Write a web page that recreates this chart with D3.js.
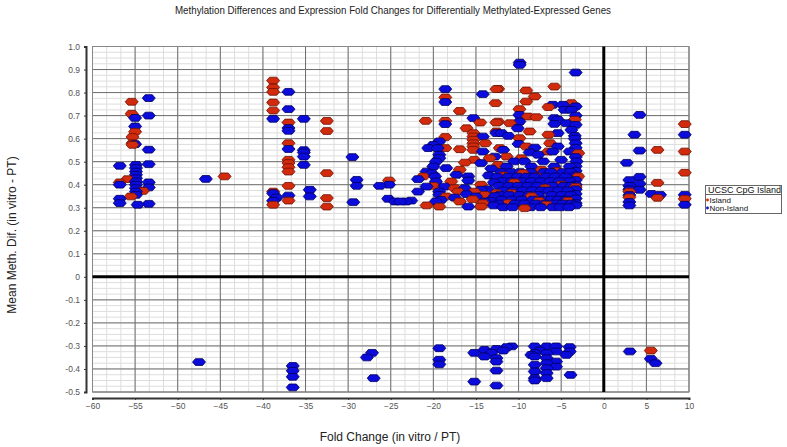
<!DOCTYPE html>
<html><head><meta charset="utf-8">
<script src="https://cdn.jsdelivr.net/npm/d3@7"></script>
<style>
html,body{margin:0;padding:0;background:#fff;}
svg{display:block;font-family:"Liberation Sans",Arial,sans-serif;}
</style></head>
<body><svg id="c" width="787" height="447"></svg>
<script>
const chartTitle = "Methylation Differences and Expression Fold Changes for Differentially Methylated-Expressed Genes";
const xLabel = "Fold Change (in vitro / PT)";
const yLabel = "Mean Meth. Dif. (in vitro - PT)";
const legendTitle = "UCSC CpG Island";
const seriesNames = ["Island", "Non-Island"];
const xTicks = [-60,-55,-50,-45,-40,-35,-30,-25,-20,-15,-10,-5,0,5,10];
const yTicks = [-0.5,-0.4,-0.3,-0.2,-0.1,0,0.1,0.2,0.3,0.4,0.5,0.6,0.7,0.8,0.9,1.0];
const yTickLabels = ["-0.5","-0.4","-0.3","-0.2","-0.1","0","0.1","0.2","0.3","0.4","0.5","0.6","0.7","0.8","0.9","1.0"];

// [fold change, mean methylation difference]
const islandPoints = [
[-55.4,0.76],[-55.4,0.708],[-55,0.63],[-55.3,0.607],[-55.3,0.58],[-55.3,0.573],[-55.9,0.424],[-56.8,0.41],[-54.1,0.373],[-55.5,0.349],
[-44.5,0.436],
[-38.8,0.852],[-38.8,0.822],[-38.8,0.803],[-38.8,0.757],[-38.8,0.722],[-37,0.67],[-32.5,0.677],[-32.5,0.633],[-37,0.58],[-37,0.508],[-37,0.494],[-37,0.476],[-37,0.457],[-32.5,0.45],[-37,0.395],[-38.8,0.37],[-38.8,0.313],[-37,0.331],[-32.5,0.342],[-32.5,0.305],[-25.2,0.418],
[-18.6,0.779],[-12.6,0.815],[-12.7,0.754],[-16.9,0.72],[-20.9,0.677],[-18.6,0.677],[-14.5,0.67],[-12.6,0.67],[-16.1,0.645],[-15.3,0.624],[-15.3,0.609],[-15.3,0.595],[-15.3,0.58],[-15.3,0.566],[-15.3,0.551],[-13.9,0.58],[-12.6,0.631],[-18.6,0.607],[-18.6,0.559],[-16.9,0.554],[-15.2,0.508],[-16.3,0.496],[-13.4,0.515],[-16.9,0.465],[-21.2,0.436],[-17.9,0.414],[-20.0,0.395],[-17.5,0.385],[-14.4,0.40],[-17.1,0.37],[-15.2,0.37],[-18.5,0.349],[-14.0,0.356],[-16.9,0.327],[-15.4,0.337],[-14.2,0.32],[-20.8,0.31],[-19.3,0.305],[-14.4,0.305],
[-12.4,0.816],[-9.1,0.809],[-5.8,0.826],[-8.1,0.783],[-9.1,0.761],[-6.5,0.737],[-3.8,0.754],[-9.9,0.728],[-8.9,0.696],[-7.9,0.693],[-3.4,0.682],[-12.4,0.674],[-11.0,0.667],[-8.7,0.631],[-6.5,0.617],[-9.9,0.602],[-6.3,0.58],[-9.1,0.566],[-12.2,0.559],[-11.4,0.522],[-6.5,0.544],[-3.0,0.537],[-9.7,0.515],[-12.4,0.486],[-7.3,0.465],
[-12.6,0.363],[-10.8,0.363],[-6.9,0.385],[-6.7,0.313],[-9.3,0.298],[-7.9,0.436],[-3.0,0.436],[-11.8,0.44],[-10.5,0.41],[-8.5,0.35],[-5.0,0.40],[-4.2,0.33],[-9.5,0.45],[-5.5,0.46],[-3.3,0.39],[-11.2,0.32],[-7.6,0.33],
[9.5,0.663],[6.3,0.551],[9.5,0.544],[6.3,0.408],[6.3,0.343],[9.5,0.452],[9.5,0.339],[3.0,0.37],[3.0,0.345],
[5.52,-0.32]
];

const nonIslandPoints = [
[-53.4,0.776],[-53.4,0.70],[-55,0.69],[-55,0.653],[-55,0.576],[-53.4,0.552],[-56.8,0.482],
[-54.9,0.486],[-54.9,0.472],[-54.9,0.457],[-54.9,0.443],[-54.9,0.428],[-54.9,0.414],[-54.9,0.40],[-54.9,0.385],[-54.9,0.37],[-54.9,0.356],
[-53.4,0.489],[-56.8,0.40],[-53.4,0.41],[-53.4,0.388],[-56.8,0.339],[-56.8,0.32],[-54.7,0.313],[-53.4,0.317],[-46.7,0.425],
[-37,0.803],[-37,0.728],[-38.8,0.686],[-35.2,0.686],[-37,0.646],[-37,0.634],[-37,0.555],[-35.2,0.55],[-35.2,0.54],[-35.2,0.522],[-35.2,0.486],[-29.5,0.52],[-29,0.421],[-29,0.395],[-38.8,0.363],[-38.4,0.344],[-38.8,0.33],[-37,0.353],[-34.5,0.378],[-34.5,0.349],[-29.4,0.324],[-26.3,0.395],[-25.2,0.40],[-25.3,0.339],[-24.5,0.327],[-23.2,0.327],
[-18.6,0.815],[-18.6,0.759],[-14.2,0.793],[-15.3,0.689],[-18.6,0.663],[-14.2,0.609],[-14.2,0.544],[-12.6,0.624],[-19.3,0.588],[-20.0,0.573],[-20.6,0.559],[-19.5,0.559],[-19.3,0.53],[-19.3,0.515],[-19.7,0.50],[-20.0,0.479],[-14.4,0.494],[-18.5,0.472],[-20.8,0.457],[-20.2,0.45],[-21.8,0.424],[-19.8,0.436],[-19.7,0.414],[-17.3,0.443],[-15.9,0.436],[-15.9,0.418],[-18.7,0.392],[-20.8,0.392],[-16.3,0.385],[-14.4,0.378],[-21.8,0.37],[-19.3,0.37],[-19.3,0.356],[-16.1,0.359],[-17.5,0.344],[-15.0,0.349],[-22.6,0.331],[-19.7,0.327],[-19.1,0.334],[-15.9,0.305],[-14.0,0.327],[-23.9,0.327],
[-9.87,0.93],[-9.87,0.92],[-3.3,0.887],[-6.0,0.747],[-4.8,0.747],[-4.6,0.725],[-3.8,0.725],[-9.9,0.703],[-5.8,0.689],[-5.4,0.682],[-9.9,0.674],[-5.8,0.664],[-4.4,0.667],[-10.1,0.645],[-3.8,0.638],[-12.0,0.624],[-11.2,0.612],[-5.4,0.624],[-3.4,0.612],[-3.4,0.60],[-10.0,0.577],[-8.1,0.561],[-5.4,0.566],[-11.8,0.551],[-12.8,0.522],[-8.7,0.54],[-7.7,0.53],[-6.0,0.544],[-4.0,0.544],[-10.5,0.501],[-9.3,0.501],[-7.1,0.501],[-5.0,0.508],[-3.2,0.501],[-11.4,0.479],[-8.5,0.479],[-5.8,0.479],[-4.0,0.479],
[-3.3,0.74],[-3.3,0.70],[-3.3,0.66],[-3.3,0.58],[-3.3,0.56],[-3.3,0.52],[-3.3,0.48],[-3.3,0.46],[-3.3,0.44],[-3.3,0.42],[-3.3,0.40],[-3.3,0.38],[-3.3,0.36],[-3.3,0.34],[-3.3,0.32],[-3.3,0.31],
[-13.2,0.47],[-13.5,0.44],[-12.9,0.41],[-13.6,0.38],[-12.8,0.35],[-13.3,0.33],[-12.9,0.31],
[-12.0,0.455],[-10.9,0.455],[-9.8,0.455],[-8.6,0.455],[-7.0,0.455],[-6.2,0.455],[-4.8,0.455],[-3.9,0.455],
[-12.5,0.435],[-11.2,0.435],[-10.1,0.435],[-9.0,0.435],[-8.1,0.435],[-6.8,0.435],[-5.7,0.435],[-4.5,0.435],
[-11.9,0.415],[-10.8,0.415],[-9.6,0.415],[-8.5,0.415],[-7.4,0.415],[-6.3,0.415],[-5.2,0.415],[-4.0,0.415],
[-12.3,0.395],[-11.1,0.395],[-10.0,0.395],[-8.9,0.395],[-7.8,0.395],[-6.0,0.395],[-4.7,0.395],[-3.8,0.395],
[-11.8,0.375],[-10.6,0.375],[-9.5,0.375],[-8.4,0.375],[-7.3,0.375],[-6.4,0.375],[-5.3,0.375],[-4.2,0.375],
[-12.2,0.355],[-11.1,0.355],[-9.9,0.355],[-8.8,0.355],[-7.7,0.355],[-6.1,0.355],[-4.9,0.355],[-3.9,0.355],
[-12.0,0.335],[-10.8,0.335],[-9.6,0.335],[-8.3,0.335],[-7.1,0.335],[-6.2,0.335],[-5.3,0.335],[-4.4,0.335],
[-12.4,0.318],[-10.4,0.318],[-9.3,0.318],[-8.0,0.318],[-6.9,0.318],[-5.8,0.318],[-4.8,0.318],[-3.8,0.318],
[-11.8,0.302],[-10.7,0.302],[-8.6,0.302],[-7.4,0.302],[-6.0,0.302],[-5.1,0.302],[-4.1,0.302],
[4.2,0.703],[3.6,0.617],[9.5,0.617],[4.2,0.548],[2.7,0.495],[3.0,0.42],[3.0,0.395],[3.0,0.38],[3.0,0.355],[3.0,0.325],[3.0,0.31],[4.2,0.434],[4.2,0.404],[4.2,0.378],[5.6,0.36],[6.6,0.356],[9.5,0.356],[9.5,0.313],
[-47.5,-0.37],[-36.5,-0.387],[-36.5,-0.408],[-36.5,-0.434],[-36.5,-0.48],[-27.2,-0.33],[-27.8,-0.35],[-27.0,-0.44],[-19.3,-0.31],[-19.3,-0.36],[-19.3,-0.38],[-15.2,-0.33],[-15.2,-0.455],[-14.0,-0.317],[-14.0,-0.346],[-12.6,-0.313],[-12.6,-0.353],[-12.6,-0.368],[-12.6,-0.407],[-12.6,-0.472],[-11.4,-0.305],[-10.8,-0.302],[-13.2,-0.33],[-11.8,-0.32],[-8.1,-0.302],[-8.1,-0.331],[-8.1,-0.346],[-8.1,-0.382],[-8.1,-0.411],[-8.1,-0.44],[-8.1,-0.45],[-6.7,-0.302],[-6.7,-0.331],[-6.7,-0.353],[-6.7,-0.375],[-6.7,-0.397],[-6.7,-0.418],[-6.7,-0.44],[-5.6,-0.302],[-5.6,-0.324],[-5.6,-0.368],[-5.6,-0.39],[-4.0,-0.305],[-4.0,-0.324],[-4.4,-0.339],[-7.5,-0.32],[-8.5,-0.339],[-3.9,-0.426],[3.05,-0.324],[5.52,-0.356],[6.07,-0.375]
];

const colors = {Island:{fill:"#d22a0c", stroke:"#6b1204"}, "Non-Island":{fill:"#0b0bdc", stroke:"#00005e"}};

const svg = d3.select("#c");
const plot = {l:92.5, r:689, t:46.5, b:392};
const x = d3.scaleLinear().domain([-60,10]).range([plot.l, plot.r]);
const y = d3.scaleLinear().domain([-0.5,1.0]).range([plot.b, plot.t]);

// title
svg.append("text").attr("x",393).attr("y",14).attr("text-anchor","middle")
  .attr("textLength",436).attr("lengthAdjust","spacingAndGlyphs")
  .style("font-size","11px").attr("fill","#222").text(chartTitle);

const g = svg.append("g");
// minor grid
const xMinor = d3.range(0,43).map(i => -60 + i*5/3);
const yMinor = d3.range(0,61).map(i => -0.5 + i*0.025);
g.selectAll(".xm").data(xMinor).enter().append("line")
  .attr("x1",d=>x(d)).attr("x2",d=>x(d)).attr("y1",plot.t).attr("y2",plot.b)
  .attr("stroke","#dddddd").attr("stroke-width",1);
g.selectAll(".ym").data(yMinor).enter().append("line")
  .attr("y1",d=>y(d)).attr("y2",d=>y(d)).attr("x1",plot.l).attr("x2",plot.r)
  .attr("stroke","#dddddd").attr("stroke-width",1);
// major grid
g.selectAll(".xM").data(xTicks).enter().append("line")
  .attr("x1",d=>x(d)).attr("x2",d=>x(d)).attr("y1",plot.t).attr("y2",plot.b)
  .attr("stroke","#6e6e6e").attr("stroke-width",1);
g.selectAll(".yM").data(yTicks).enter().append("line")
  .attr("y1",d=>y(d)).attr("y2",d=>y(d)).attr("x1",plot.l).attr("x2",plot.r)
  .attr("stroke","#6e6e6e").attr("stroke-width",1);
// frame
g.append("rect").attr("x",plot.l).attr("y",plot.t).attr("width",plot.r-plot.l).attr("height",plot.b-plot.t)
  .attr("fill","none").attr("stroke","#888").attr("stroke-width",1);
// zero lines
g.append("line").attr("x1",plot.l).attr("x2",plot.r).attr("y1",y(0)).attr("y2",y(0)).attr("stroke","#000").attr("stroke-width",3);
g.append("line").attr("x1",x(0)).attr("x2",x(0)).attr("y1",plot.t).attr("y2",plot.b).attr("stroke","#000").attr("stroke-width",3);

// axes
const yAxis = d3.axisLeft(y).tickValues(yTicks).tickFormat((d,i)=>yTickLabels[i]).tickSize(2).tickPadding(4);
const ya = svg.append("g").attr("transform","translate(86,0)").call(yAxis);
const xAxis = d3.axisBottom(x).tickValues(xTicks).tickFormat(d3.format("d")).tickSize(2).tickPadding(3);
const xa = svg.append("g").attr("transform","translate(0,398)").call(xAxis);
[ya,xa].forEach(a=>{
  a.select(".domain").attr("stroke","#333").attr("stroke-width",2);
  a.selectAll(".tick line").attr("stroke","#333");
  a.selectAll(".tick text").attr("fill","#555").style("font-size","8.5px").style("font-family",'"Liberation Sans",Arial,sans-serif');
});

// axis labels
svg.append("text").attr("x",390).attr("y",441).attr("text-anchor","middle")
  .style("font-size","12px").attr("fill","#222").text(xLabel);
svg.append("text").attr("transform","translate(16,235) rotate(-90)").attr("text-anchor","middle")
  .style("font-size","12px").attr("fill","#222").text(yLabel);

// points
const hex = "M-6.5,0L-3.6,-3.4L3.6,-3.4L6.5,0L3.6,3.4L-3.6,3.4Z";
const all = islandPoints.map(p=>({fc:p[0],md:p[1],s:"Island"}))
  .concat(nonIslandPoints.map(p=>({fc:p[0],md:p[1],s:"Non-Island"})));
all.sort((a,b)=>b.md-a.md);
const pts = svg.append("g");
pts.selectAll("path").data(all).enter().append("path")
  .attr("d",hex).attr("transform",d=>`translate(${x(d.fc)},${y(d.md)})`)
  .attr("fill",d=>colors[d.s].fill).attr("stroke",d=>colors[d.s].stroke).attr("stroke-width",0.8);

// legend
const lg = svg.append("g");
lg.append("rect").attr("x",705.5).attr("y",185.5).attr("width",76).attr("height",28).attr("fill","#fff").attr("stroke","#666");
lg.append("line").attr("x1",705.5).attr("x2",781.5).attr("y1",194.5).attr("y2",194.5).attr("stroke","#666");
lg.append("text").attr("x",708).attr("y",192.5).style("font-size","9px").attr("fill","#111").text(legendTitle);
seriesNames.forEach((n,i)=>{
  lg.append("circle").attr("cx",707.5).attr("cy",200+i*8).attr("r",1.4).attr("fill",colors[n].fill);
  lg.append("text").attr("x",709.5).attr("y",202.8+i*8).style("font-size","8px").attr("fill","#111").text(n);
});
</script></body></html>
